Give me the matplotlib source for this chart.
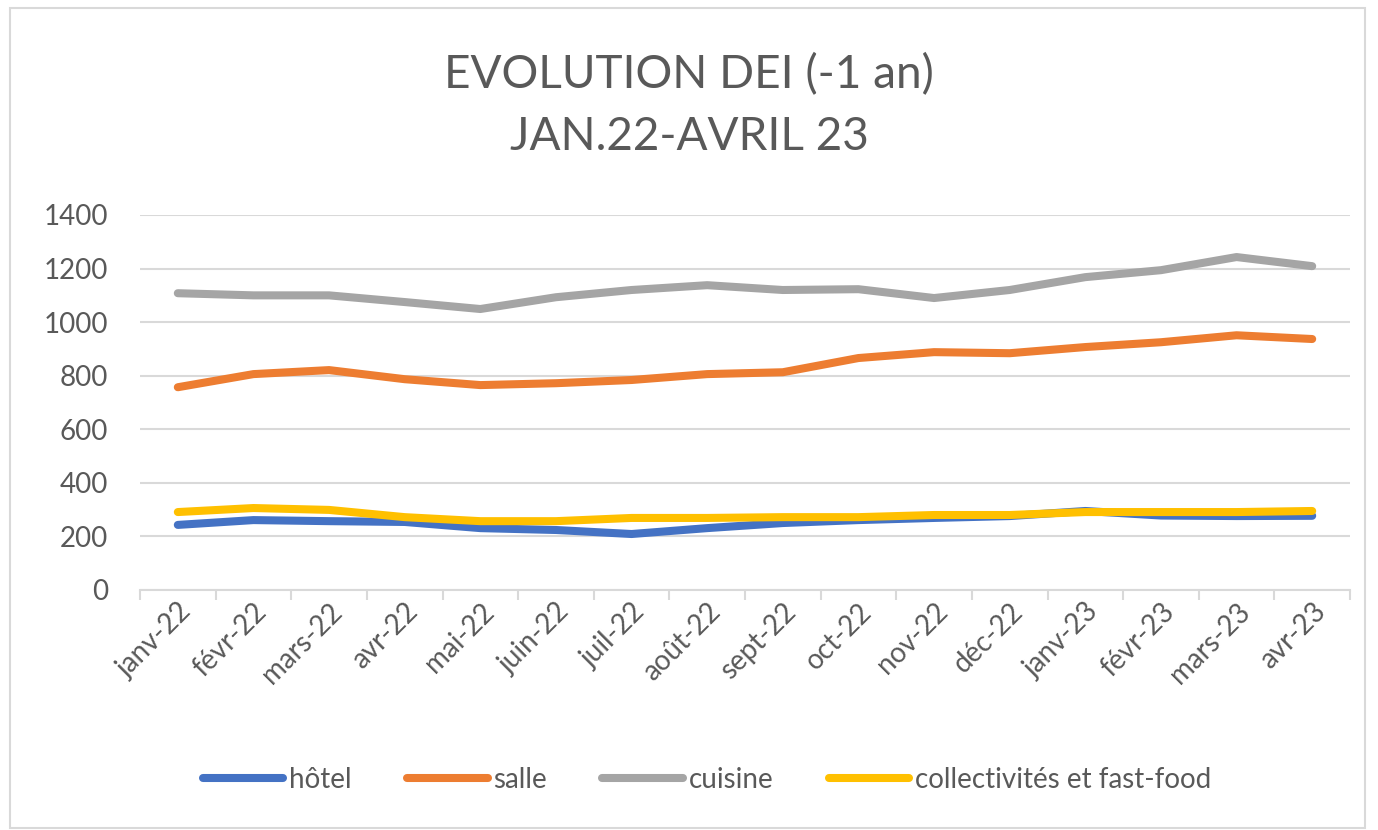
import numpy as np
import matplotlib
matplotlib.use("Agg")
import matplotlib.pyplot as plt
from matplotlib.patches import Rectangle

# data
mois = ["janv-22", "févr-22", "mars-22", "avr-22", "mai-22", "juin-22", "juil-22", "août-22",
        "sept-22", "oct-22", "nov-22", "déc-22", "janv-23", "févr-23", "mars-23", "avr-23"]
hotel = [243, 261, 257, 254, 231, 224, 209, 231, 250, 261, 269, 276, 295, 278, 276, 277]
salle = [757, 806, 821, 787, 765, 772, 784, 806, 813, 866, 888, 884, 907, 925, 951, 937]
cuisine = [1108, 1100, 1100, 1075, 1049, 1093, 1120, 1138, 1120, 1123, 1090, 1120, 1168, 1194, 1243, 1209]
collectivites = [291, 306, 299, 272, 257, 257, 269, 269, 272, 272, 280, 280, 291, 291, 291, 295]

series = [("hôtel", hotel, "#4472C4"),
          ("salle", salle, "#ED7D31"),
          ("cuisine", cuisine, "#A5A5A5"),
          ("collectivités et fast-food", collectivites, "#FFC000")]

plt.rcParams['font.family'] = ['Lato', 'DejaVu Sans']
txt = "#595959"

fig = plt.figure(figsize=(13.78, 8.3), dpi=100)
ax = fig.add_axes([140/1378, 1-590/830, 1210/1378, 375/830])

x = np.arange(len(mois))
for name, vals, col in series:
    ax.plot(x, vals, color=col, lw=5.8, solid_capstyle="round", solid_joinstyle="round", label=name)

ax.set_xlim(-0.5, len(mois)-0.5)
ax.set_ylim(0, 1400)
ax.set_yticks(np.arange(0, 1401, 200))
ax.yaxis.grid(True, color="#D9D9D9", lw=1.5)
ax.set_axisbelow(True)
for s in ["top", "right", "left"]:
    ax.spines[s].set_visible(False)
ax.spines["bottom"].set_color("#D9D9D9")
ax.spines["bottom"].set_linewidth(1.5)
ax.tick_params(axis="y", length=0, labelsize=20, labelcolor=txt, pad=23)

# category ticks on boundaries, labels in the middle
ax.set_xticks(np.arange(-0.5, len(mois), 1))
ax.set_xticklabels([])
ax.tick_params(axis="x", which="major", length=7, color="#D9D9D9", width=1.5)
ax.set_xticks(x, minor=True)
ax.set_xticklabels(mois, minor=True, rotation=45, ha="right", rotation_mode="anchor",
                   fontsize=20, color=txt)
ax.tick_params(axis="x", which="minor", length=0, pad=6)

fig.text(0.5, 1-75/830, "EVOLUTION DEI (-1 an)", ha="center", va="center", fontsize=33, color=txt)
fig.text(0.5, 1-137/830, "JAN.22-AVRIL 23", ha="center", va="center", fontsize=33, color=txt)

fig.legend(loc="center", bbox_to_anchor=(0.513, 1-780/830), ncol=4, frameon=False,
           fontsize=20, labelcolor=txt, handlelength=2.9, handletextpad=0.2, columnspacing=2.0)

fig.patches.append(Rectangle((10/1378, 2/830), 1355/1378, 820/830, transform=fig.transFigure,
                             fill=False, edgecolor="#D9D9D9", lw=1.5))

fig.savefig("out.png", dpi=100, facecolor="white")
